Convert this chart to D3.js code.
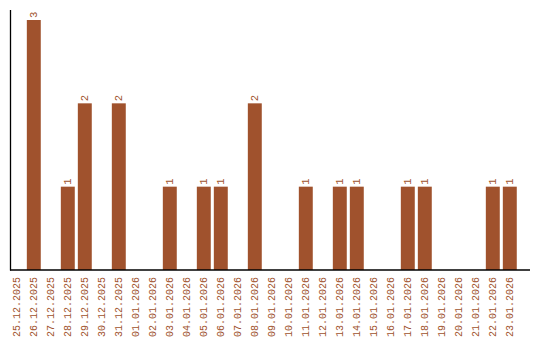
<!DOCTYPE html>
<html>
<head>
<meta charset="utf-8">
<script src="https://cdn.jsdelivr.net/npm/d3@7"></script>
<style>
  html, body { margin: 0; padding: 0; background: #fff; }
  svg { display: block; }
</style>
</head>
<body>
<div id="chart"></div>
<script>
const dates = ["25.12.2025","26.12.2025","27.12.2025","28.12.2025","29.12.2025","30.12.2025","31.12.2025",
  "01.01.2026","02.01.2026","03.01.2026","04.01.2026","05.01.2026","06.01.2026","07.01.2026","08.01.2026",
  "09.01.2026","10.01.2026","11.01.2026","12.01.2026","13.01.2026","14.01.2026","15.01.2026","16.01.2026",
  "17.01.2026","18.01.2026","19.01.2026","20.01.2026","21.01.2026","22.01.2026","23.01.2026"];
const counts = [0,3,0,1,2,0,2,0,0,1,0,1,1,0,2,0,0,1,0,1,1,0,0,1,1,0,0,0,1,1];

const W = 540, H = 340;
const color = "#a0522d";
const font = "'Liberation Mono', monospace";

const svg = d3.select("#chart").append("svg").attr("width", W).attr("height", H);

const x = d3.scaleBand().domain(dates).range([8.3, 518.3]).paddingInner(0.18).paddingOuter(0.09);
const y = d3.scaleLinear().domain([0, 3]).range([270, 20]);

const data = dates.map((d, i) => ({date: d, value: counts[i]}));

svg.append("g").selectAll("rect").data(data.filter(d => d.value > 0)).join("rect")
  .attr("x", d => x(d.date))
  .attr("y", d => y(d.value))
  .attr("width", x.bandwidth())
  .attr("height", d => y(0) - y(d.value))
  .attr("fill", color);

svg.append("g").selectAll("text").data(data.filter(d => d.value > 0)).join("text")
  .attr("transform", d => `translate(${x(d.date) + x.bandwidth() / 2 + 3.5},${y(d.value) - 2}) rotate(-90)`)
  .attr("font-family", font).attr("font-size", 10.5).attr("fill", color)
  .text(d => d.value);

// axes
svg.append("line").attr("x1", 10.5).attr("x2", 10.5).attr("y1", 10).attr("y2", 270.5)
  .attr("stroke", "#000").attr("stroke-width", 1.3);
svg.append("line").attr("x1", 10).attr("x2", 530).attr("y1", 270).attr("y2", 270)
  .attr("stroke", "#000").attr("stroke-width", 1.3);

svg.append("g").selectAll("text").data(dates).join("text")
  .attr("transform", d => `translate(${x(d) + x.bandwidth() / 2 + 3.5},277) rotate(-90)`)
  .attr("text-anchor", "end")
  .attr("font-family", font).attr("font-size", 10).attr("fill", color)
  .text(d => d);
</script>
</body>
</html>
